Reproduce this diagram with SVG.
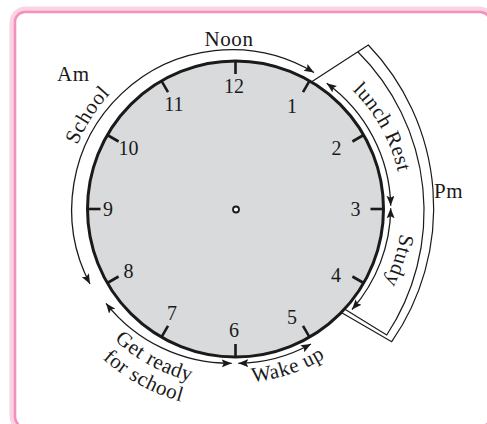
<svg xmlns="http://www.w3.org/2000/svg" width="487" height="424" viewBox="0 0 487 424">
<style>
.t{font-family:"Liberation Serif","Times New Roman",serif;font-size:20px;fill:#1a1a1a}
.lb{font-size:21px;letter-spacing:0.6px}
.num{text-anchor:middle}
.arc{fill:none;stroke:#1a1a1a;stroke-width:1.3;marker-start:url(#ah);marker-end:url(#ah)}
.sec{fill:none;stroke:#1a1a1a;stroke-width:1.2}
.tick{stroke:#1a1a1a;stroke-width:2.6}
</style>
<defs>
<marker id="ah" markerUnits="userSpaceOnUse" markerWidth="11" markerHeight="9" refX="10" refY="4" orient="auto-start-reverse">
<path d="M0,0 L10,4 L0,8 L2,4 Z" fill="#1a1a1a"/>
</marker>
<path id="pSchool" d="M66.6,232.7 A170,170 0 0 1 185.3,46.4"/>
<path id="pLunch" d="M292.1,52.1 A167,167 0 0 1 398.3,243.7"/>
<path id="pStudy" d="M391.9,151.9 A167,167 0 0 1 330.8,345.8"/>
<path id="pWake" d="M175.5,372.5 A174,174 0 0 0 381.3,303.3"/>
<path id="pGet" d="M67.7,269.9 A178,178 0 0 0 275,382.4"/>
<path id="pFor" d="M47.1,277.4 A200,200 0 0 0 280,403.9"/>
</defs>

<g id="frame">
<rect x="12.5" y="9.5" width="480" height="420" rx="13" fill="none" stroke="#fbd3e4" stroke-width="6"/>
<rect x="15" y="12" width="475" height="415" rx="10" fill="#ffffff" stroke="#f291bb" stroke-width="2.6"/>
</g>

<g id="pm-sector">
<path d="M311.7,81.7 L368.3,45 A235,235 0 0 1 391.7,341.7 L340,311.7 A148,148 0 0 0 311.7,81.7 Z" fill="#ffffff"/>
<path class="sec" d="M311.7,81.7 L368.3,45 A235,235 0 0 1 391.7,341.7 L340,311.7"/>
<path class="sec" d="M357.8,51.8 A224.5,224.5 0 0 1 386.7,335 L343.3,308.3"/>
<text class="t lb" x="434" y="198">Pm</text>
</g>

<g id="clock">
<circle cx="235.5" cy="209" r="148" fill="#d9dadc" stroke="#1a1a1a" stroke-width="3"/>
<g class="tick">
<line x1="235.5" y1="61" x2="235.5" y2="74" transform="rotate(0 235.5 209)"/>
<line x1="235.5" y1="61" x2="235.5" y2="74" transform="rotate(30 235.5 209)"/>
<line x1="235.5" y1="61" x2="235.5" y2="74" transform="rotate(60 235.5 209)"/>
<line x1="235.5" y1="61" x2="235.5" y2="74" transform="rotate(90 235.5 209)"/>
<line x1="235.5" y1="61" x2="235.5" y2="74" transform="rotate(120 235.5 209)"/>
<line x1="235.5" y1="61" x2="235.5" y2="74" transform="rotate(150 235.5 209)"/>
<line x1="235.5" y1="61" x2="235.5" y2="74" transform="rotate(180 235.5 209)"/>
<line x1="235.5" y1="61" x2="235.5" y2="74" transform="rotate(210 235.5 209)"/>
<line x1="235.5" y1="61" x2="235.5" y2="74" transform="rotate(240 235.5 209)"/>
<line x1="235.5" y1="61" x2="235.5" y2="74" transform="rotate(270 235.5 209)"/>
<line x1="235.5" y1="61" x2="235.5" y2="74" transform="rotate(300 235.5 209)"/>
<line x1="235.5" y1="61" x2="235.5" y2="74" transform="rotate(330 235.5 209)"/>
</g>
<g class="t num">
<text x="234" y="93">12</text>
<text x="292" y="113">1</text>
<text x="336.5" y="155">2</text>
<text x="355.5" y="216">3</text>
<text x="336" y="282">4</text>
<text x="292" y="324">5</text>
<text x="234" y="337">6</text>
<text x="172" y="320">7</text>
<text x="128.5" y="278">8</text>
<text x="108" y="216">9</text>
<text x="128.5" y="155">10</text>
<text x="174" y="111">11</text>
</g>
<circle cx="236" cy="209.5" r="3" fill="#ffffff" stroke="#1a1a1a" stroke-width="1.8"/>
</g>

<g id="connectors">
<path class="arc" d="M90,284 A160,160 0 0 1 314,72.5"/>
<path class="arc" d="M326.7,83.3 A155.6,155.6 0 0 1 390.7,205.7"/>
<path class="arc" d="M390.7,208.3 A155,155 0 0 1 352,309.5"/>
<path class="arc" d="M311,344 A154,154 0 0 1 238.3,363.3"/>
<path class="arc" d="M231.7,363.3 A158,158 0 0 1 106,303.3"/>
</g>

<g id="labels">
<text class="t lb" x="229" y="45.5" text-anchor="middle">Noon</text>
<text class="t lb" x="57" y="81">Am</text>
<text class="t lb" text-anchor="middle"><textPath href="#pSchool" startOffset="50%">School</textPath></text>
<text class="t lb" text-anchor="middle"><textPath href="#pLunch" startOffset="50%">lunch Rest</textPath></text>
<text class="t lb" text-anchor="middle"><textPath href="#pStudy" startOffset="50%">Study</textPath></text>
<text class="t lb" text-anchor="middle"><textPath href="#pWake" startOffset="50%">Wake up</textPath></text>
<text class="t lb" text-anchor="middle"><textPath href="#pGet" startOffset="50%">Get ready</textPath></text>
<text class="t lb" text-anchor="middle"><textPath href="#pFor" startOffset="50%">for school</textPath></text>
</g>
</svg>
